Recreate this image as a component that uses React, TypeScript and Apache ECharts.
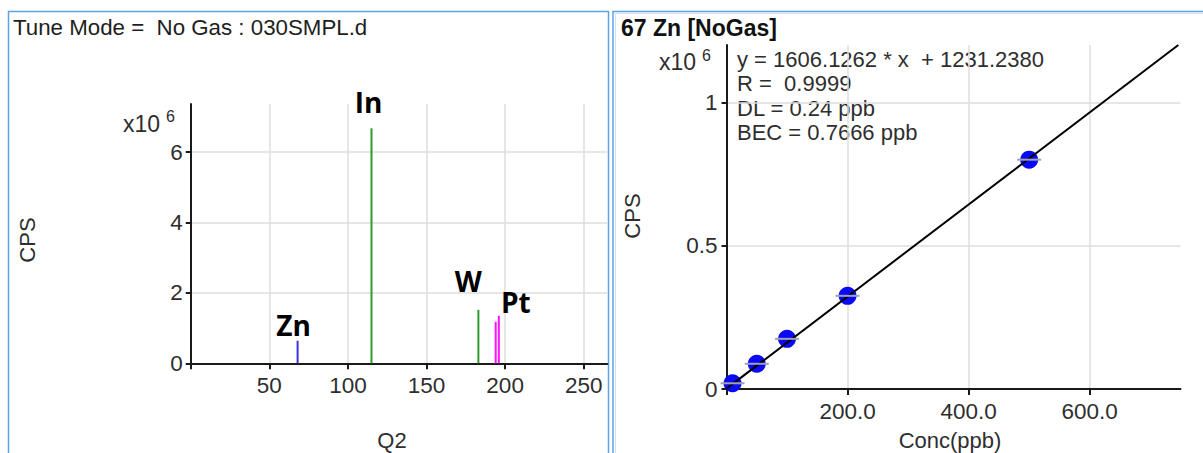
import React, { useEffect, useRef } from 'react';
import * as echarts from 'echarts';

// ---- Left panel: mass spectrum (values in x10^6 CPS)
const spikeMass = [68, 115, 183, 194, 196];
const spikeCps = [0.64, 6.68, 1.52, 1.18, 1.35];
const spikeNames = ['Zn', 'In', 'W', '', 'Pt'];
const spikeColors = ['#3434e0', '#2f9a2f', '#2f9a2f', '#ff10ff', '#ff10ff'];
const spikeLabelOffsets = [[-4, 3], [-3, -7], [-10, -10], [0, 0], [17, 5]];
const leftXTicks = [0, 50, 100, 150, 200, 250];
const leftXLabels = [50, 100, 150, 200, 250];
const leftYTicks = [0, 2, 4, 6];

// ---- Right panel: calibration curve (values in x10^6 CPS)
const calConc = [10, 50, 100, 200, 500];
const calCps = [0.02, 0.088, 0.175, 0.325, 0.8];
const fitLineX = [0, 746.4];
const fitLineY = [0.00123, 1.2];
const rightXTicks = [0, 200, 400, 600];
const rightXLabels = [200, 400, 600];
const rightYTicks = [0, 0.5, 1];
const fitText = ['y = 1606.1262 * x  + 1231.2380', 'R =  0.9999', 'DL = 0.24 ppb', 'BEC = 0.7666 ppb'];

const FONT = 'Liberation Sans, Arial, sans-serif';
const AX = '#1a1a1a';
const LBL = '#2e2e2e';
const GRID = '#dedede';
const TICKFS = 22.5;

export default function App() {
  const ref = useRef<HTMLDivElement>(null);
  useEffect(() => {
    if (!ref.current) return;
    const chart = echarts.init(ref.current, null, { renderer: 'svg' });
    const axisBase = {
      axisLine: { onZero: false, lineStyle: { color: AX, width: 2 } },
      splitLine: { show: true, lineStyle: { color: GRID, width: 1.5 } },
    };
    const txt = (x: number, y: number, text: string, extra: any = {}) => ({
      type: 'text',
      x,
      y,
      style: { text, fontFamily: FONT, fontSize: 22, fill: LBL, verticalAlign: 'middle', ...extra },
    });
    const option: any = {
      animation: false,
      backgroundColor: '#ffffff',
      grid: [
        { left: 190.7, top: 104, width: 416.6, height: 259.3 },
        { left: 726.5, top: 45, width: 454, height: 344 },
      ],
      xAxis: [
        {
          gridIndex: 0, type: 'value', min: 0, max: 265, ...axisBase,
          axisTick: { customValues: leftXTicks, length: 6, lineStyle: { color: AX, width: 2 } },
          axisLabel: { customValues: leftXLabels, margin: 11, fontFamily: FONT, fontSize: TICKFS, color: LBL },
        },
        {
          gridIndex: 1, type: 'value', min: 0, max: 750, ...axisBase,
          axisTick: { customValues: rightXTicks, length: 6, lineStyle: { color: AX, width: 2 } },
          axisLabel: {
            customValues: rightXLabels, margin: 11, fontFamily: FONT, fontSize: TICKFS, color: LBL,
            formatter: (v: number) => v.toFixed(1),
          },
        },
      ],
      yAxis: [
        {
          gridIndex: 0, type: 'value', min: 0, max: 7.37, ...axisBase,
          axisTick: { customValues: leftYTicks, length: 5, lineStyle: { color: AX, width: 2 } },
          axisLabel: { customValues: leftYTicks, margin: 8, fontFamily: FONT, fontSize: TICKFS, color: LBL },
        },
        {
          gridIndex: 1, type: 'value', min: 0, max: 1.2, ...axisBase,
          axisTick: { customValues: rightYTicks, length: 5, lineStyle: { color: AX, width: 2 } },
          axisLabel: {
            customValues: rightYTicks, margin: 9, fontFamily: FONT, fontSize: TICKFS, color: LBL,
            formatter: (v: number) => String(v),
          },
        },
      ],
      series: [
        {
          type: 'bar', xAxisIndex: 0, yAxisIndex: 0, barWidth: 2,
          data: spikeMass.map((m, i) => ({
            value: [m, spikeCps[i]],
            itemStyle: { color: spikeColors[i] },
            label: {
              show: spikeNames[i] !== '', position: 'top', distance: 5,
              offset: spikeLabelOffsets[i], formatter: spikeNames[i],
              fontFamily: 'Open Sans', fontWeight: 'bold', fontSize: 28, color: '#000',
            },
          })),
        },
        {
          type: 'scatter', xAxisIndex: 1, yAxisIndex: 1, symbol: 'circle', symbolSize: 18, z: 2,
          itemStyle: { color: '#0a0af5', opacity: 1 },
          data: calConc.map((c, i) => [c, calCps[i]]),
        },
        {
          type: 'line', xAxisIndex: 1, yAxisIndex: 1, showSymbol: false, z: 3,
          lineStyle: { color: '#000', width: 2 },
          data: fitLineX.map((x, i) => [x, fitLineY[i]]),
        },
        {
          type: 'scatter', xAxisIndex: 1, yAxisIndex: 1, symbol: 'rect', symbolSize: [24, 2], z: 4,
          itemStyle: { color: '#a0a0b4', opacity: 1 },
          data: calConc.map((c, i) => [c, calCps[i]]),
        },
      ],
      graphic: [
        { type: 'rect', shape: { x: 8.5, y: 11.5, width: 600, height: 460 }, style: { fill: 'none', stroke: '#5ea4e4', lineWidth: 1.5 } },
        { type: 'rect', shape: { x: 613, y: 11.5, width: 600, height: 460 }, style: { fill: 'none', stroke: '#5ea4e4', lineWidth: 1.5 } },
        { type: 'rect', shape: { x: 615.5, y: 13.5, width: 600, height: 460 }, style: { fill: 'none', stroke: '#cfe2f6', lineWidth: 1 } },
        txt(13, 27, 'Tune Mode =  No Gas : 030SMPL.d', { fill: '#1e1e1e', fontSize: 22.3 }),
        txt(123, 124, 'x10', { fontSize: 23 }),
        txt(166, 116, '6', { fontSize: 16 }),
        { type: 'text', x: 27, y: 240, rotation: Math.PI / 2, style: { text: 'CPS', fontFamily: FONT, fontSize: 22, fill: LBL, align: 'center', verticalAlign: 'middle' } },
        txt(392, 440, 'Q2', { align: 'center' }),
        txt(621, 28, '67 Zn [NoGas]', { fontWeight: 'bold', fontSize: 23, fill: '#111' }),
        txt(659, 62, 'x10', { fontSize: 23 }),
        txt(702, 55, '6', { fontSize: 16 }),
        { type: 'text', x: 632, y: 216, rotation: Math.PI / 2, style: { text: 'CPS', fontFamily: FONT, fontSize: 22, fill: LBL, align: 'center', verticalAlign: 'middle' } },
        txt(950, 440, 'Conc(ppb)', { align: 'center' }),
        txt(737, 59, fitText[0]),
        txt(737, 83, fitText[1]),
        txt(737, 108, fitText[2]),
        txt(737, 132, fitText[3]),
      ],
    };
    chart.setOption(option);
    return () => chart.dispose();
  }, []);
  return (
    <div
      ref={ref}
      style={{ position: 'fixed', left: 0, top: 0, width: 1203, height: 453, background: '#fff' }}
    />
  );
}
